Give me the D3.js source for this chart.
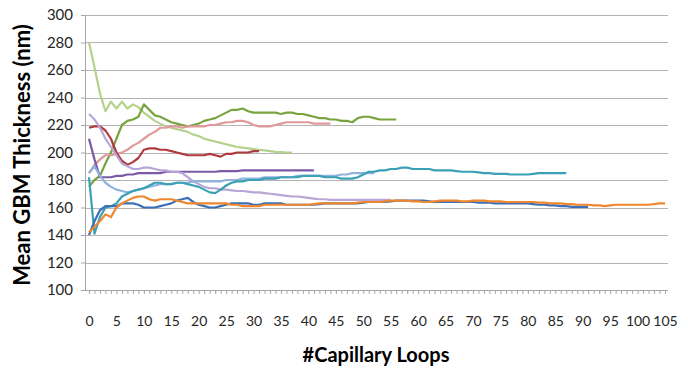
<!DOCTYPE html>
<html><head><meta charset="utf-8">
<script src="https://cdn.jsdelivr.net/npm/d3@7"></script>
<style>body{margin:0;background:#fff}svg{display:block}</style>
</head><body>
<svg id="c" width="688" height="368"></svg>
<script>
// ---- data (index = capillary loop number) ----
const yTicks = [100,120,140,160,180,200,220,240,260,280,300];
const xLabelStep = 5;
const xMax = 105;

const lightGreen = [280,262,243,230,237,232,237,232,235,233,229,226,223,221,219,218,217,216,215,213,212,210,209,208,207,206,205,204,203.5,203,202.5,202,201.5,201,200.5,200.3,200,200];
const darkGreen = [175,180,183,192,200,210,220,223,224,226,235,231,227,226,224,222,221,220,219,220,221,223,224,225,227,229,231,231,232,230,229,229,229,229,229,228,229,229,228,228,227,226,225,225,224,224,223,223,222,225,226,226,225,224,224,224,224];
const pink = [185,191,195,198,198,199,200,202,205,207,210,213,215,218,218,219,219,218,219,219,219,219,220,220,221,222,222,223,223,222,220,219,219,219,220,221,222,222,222,222,222,221,221,221,221];
const darkRed = [218,219,219,216,210,200,194,191,193,196,202,203,203,202,202,201,200,199,198,198,198,198,199,198,197,199,199,200,200,200,201,201];
const purple = [210,195,182,182,182,183,183,184,184,185,185,185,185,185,186,186,186,186,186,186,186,186,186,186,186.5,186.5,186.5,186.5,187,187,187,187,187,187,187,187,187,187,187,187,187,187];
const lavender = [228,224,218,210,204,198,192,190,188,188,189,189,188,187,187,186,186,185,182,179,177,175,174,174,173,173,172.5,172,172,171.5,171,171,170.5,170,169.5,169,168.5,168,168,167.5,167,166.5,166,166,165.5,165.5,165.5,165.5,165.5,165.5,165.5,165.5,165.5,165.5,165.5,165.5];
const lightBlue = [185,190,183,178,175,173,172,171,172,173,174,175,176,177,177,177,178,178,178,179,179,179,179,179,179,180,180,180,181,181,181,181,182,182,182,182,182,182,183,183,183,183,183,183,183,183,184,184,185,185,185,185,185];
const teal = [182,141,153,160,161,163,168,170,172,173,174,176,178,178,177,177,178,178,177,176,175,173,171,170.5,173,176,178,179,179,180,180,180,181,181,181,182,182,182,182,183,183,183,183,182,182,182,181,181,181,182,184,186,186,187,187,188,188,189,189,188,188,188,188,187,187,187,187,186.5,186,186,186,185.5,185,185,184.5,184.5,184.5,184,184,184,184,184.5,185,185,185,185,185,185];
const blue = [140,150,158,161,161,161,163,163,163,162,160,160,160,161,162,163,165,166,167,164,162,161,160,160,161,162,163,163,163,163,162,162,163,163,163,163,162,162,162,162,162,162,162.5,163,163,163,163,163,163,163,163.5,164,164,164,164,164.5,165,165,165,165,165,165,164.5,164,164,164,164,164,164,164,164,163.5,163.5,163.5,163,163,163,163,163,163,163,162.5,162,162,161.5,161.5,161,161,160.5,160.5,160.5,160.5];
const orange = [142,146,150,155,153,160,163,165,167,168,168,166,165,166,166,166,165,164,163,163,163,163,163,163,163,163,162,162,161,161,161,161,162,162,162,162,162,162,162,162,162,162.5,163,163,163,163,163,163,163,163.5,164,164,164,164,164.5,165,165,165,165,164.5,164.5,164,164,164.5,165,165,165,165,164.5,164.5,165,165,165,164.5,164.5,164.5,164,164,164,164,164,164,163.5,163.5,163,163,163,162.5,162.5,162,162,162,161.5,161.5,161,161.5,162,162,162,162,162,162,162,162.5,163,163];

const seriesList = [
  {values: lightGreen, color: "#b5d18c"},
  {values: darkGreen,  color: "#78a440"},
  {values: pink,       color: "#df9a9c"},
  {values: darkRed,    color: "#b03a3e"},
  {values: purple,     color: "#7a5aa6"},
  {values: lavender,   color: "#b8a6d6"},
  {values: lightBlue,  color: "#8fb3dc"},
  {values: teal,       color: "#3aa0b5"},
  {values: blue,       color: "#3b6fb6"},
  {values: orange,     color: "#f0862e"}
];

(function () {
// ---- layout ----
const svg = d3.select("#c");
const pL = 85, pR = 668, pT = 15, pB = 290;
const x = d3.scaleLinear().domain([0, xMax]).range([89, 665]);
const y = d3.scaleLinear().domain([100, 300]).range([pB, pT]);
const font = "Lato, 'Open Sans', sans-serif";

// gridlines
svg.append("g").selectAll("line").data(yTicks.filter(d => d > 100)).join("line")
  .attr("x1", pL).attr("x2", pR)
  .attr("y1", d => Math.round(y(d)) + 0.5).attr("y2", d => Math.round(y(d)) + 0.5)
  .attr("stroke", "#b4b4b4").attr("stroke-width", 1);

// y axis
const yAxis = svg.append("g").attr("transform", `translate(${pL},0)`)
  .call(d3.axisLeft(y).tickValues(yTicks).tickSize(4).tickPadding(8));
yAxis.select(".domain").attr("stroke", "#a6a6a6");
yAxis.selectAll(".tick line").attr("stroke", "#a6a6a6");
yAxis.selectAll("text").attr("font-family", font).attr("font-size", 15).attr("fill", "#262626");

// x axis
const xTickVals = d3.range(0, xMax + 1);
const xAxis = svg.append("g").attr("transform", `translate(0,${pB})`)
  .call(d3.axisBottom(x).tickValues(xTickVals).tickSize(4).tickPadding(22)
    .tickFormat(d => d % xLabelStep === 0 ? d : ""));
xAxis.select(".domain").attr("d", `M${pL},0.5H${pR}`).attr("stroke", "#a6a6a6");
xAxis.selectAll(".tick line").attr("stroke", "#a6a6a6");
xAxis.selectAll("text").attr("font-family", font).attr("font-size", 14).attr("fill", "#262626");

// lines
const line = d3.line().x((d, i) => x(i)).y(d => y(d)).curve(d3.curveLinear);
svg.append("g").selectAll("path").data(seriesList).join("path")
  .attr("d", s => line(s.values))
  .attr("fill", "none")
  .attr("stroke", s => s.color)
  .attr("stroke-width", 2.2)
  .attr("stroke-linejoin", "round");

// titles
svg.append("text").attr("x", 376).attr("y", 362).attr("text-anchor", "middle")
  .attr("font-family", font).attr("font-weight", "bold").attr("font-size", 20).attr("fill", "#000")
  .text("#Capillary Loops");
svg.append("text").attr("transform", "translate(30,155) rotate(-90)").attr("text-anchor", "middle")
  .attr("font-family", font).attr("font-weight", "bold").attr("font-size", 22).attr("fill", "#000")
  .text("Mean GBM Thickness (nm)");
})();
</script>
</body></html>
